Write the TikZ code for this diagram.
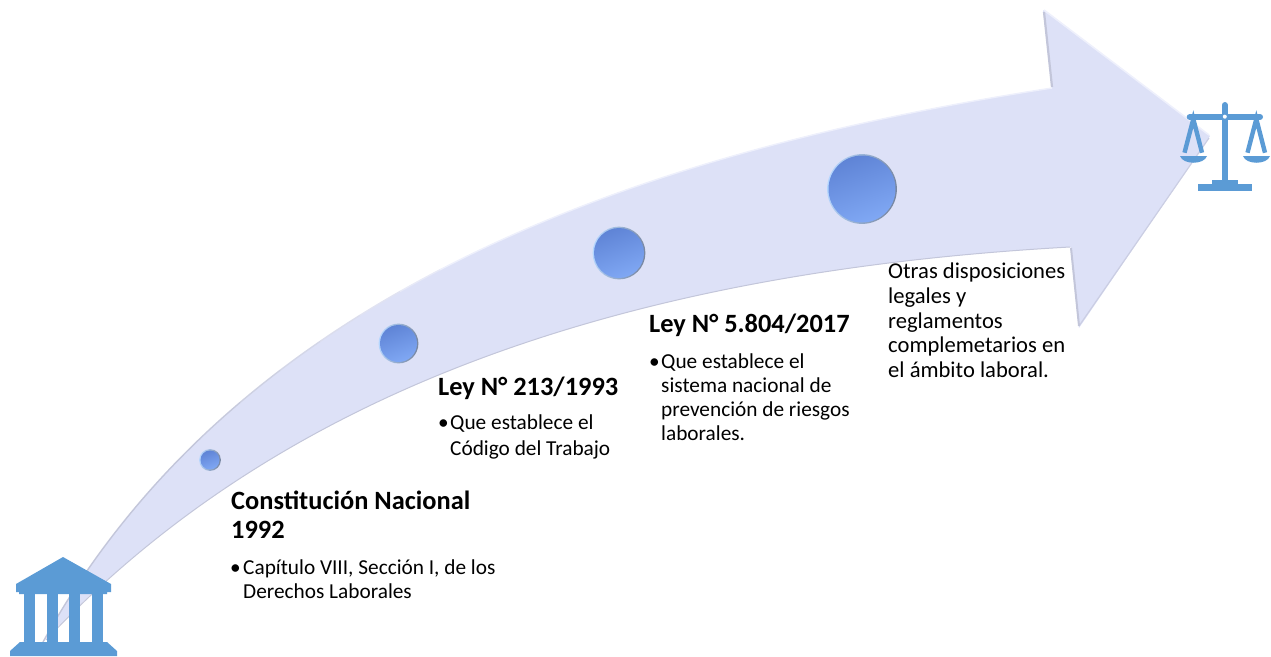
\documentclass[tikz,border=0pt]{standalone}
\usepackage{fontspec}
\setmainfont{Carlito}
\definecolor{bandfill}{HTML}{DDE1F7}
\definecolor{bevelgray}{HTML}{C3C6DA}
\definecolor{bevellight}{HTML}{EEF0FC}
\definecolor{iconblue}{HTML}{5B9BD5}
\definecolor{balldark}{HTML}{5F84D6}
\definecolor{balllight}{HTML}{80A8F4}
\definecolor{rimdark}{HTML}{76859F}
\definecolor{rimlight}{HTML}{B4D6FF}
\newcommand{\ballat}[4]{%
  \shade[left color=rimlight,right color=rimdark,shading angle=80] (#2,#3) circle[radius=#4+1.4];
  \node[ball,minimum size=#4*2pt] (#1) at (#2,#3) {};}
\tikzset{
  x=1pt,y=-1pt,
  heading/.style={anchor=north west,inner sep=0pt,align=left,font=\fontsize{26.4}{29}\selectfont\bfseries},
  body/.style={anchor=north west,inner sep=0pt,align=left,font=\fontsize{21.3}{24}\selectfont},
  bulletmark/.style={anchor=north west,inner sep=0pt,font=\fontsize{21.3}{24}\selectfont},
  ball/.style={circle,inner sep=0pt,left color=balldark,right color=balllight,shading angle=20},
  icon/.style={fill=iconblue,draw=none}
}
\begin{document}
\begin{tikzpicture}
\useasboundingbox (0,0) rectangle (1271,656);
% arrow body
\fill[bandfill] (43,642) .. controls (240,285) and (650,150) .. (1052,88)
  -- (1043,10) -- (1210,136) -- (1079,328) -- (1070.5,247)
  .. controls (620,272) and (280,392) .. (43,642) -- cycle;
% bevels: the upper edge fades from grey to light along its length
\foreach \xa/\xb/\p in {0/200/100,200/240/90,240/280/75,280/320/60,320/360/45,360/400/30,400/440/15,440/1060/0}{
  \begin{scope}
  \clip (\xa,0) rectangle (\xb,656);
  \draw[bevelgray!\p!bevellight,line width=1.4pt] (43,642) .. controls (240,285) and (650,150) .. (1052,88);
  \end{scope}
}
\draw[bevelgray,line width=2.2pt] (1044,12) -- (1052,87);
\draw[bevellight,line width=1.6pt] (1044,10) -- (1209,135);
\draw[bevelgray!70!bandfill,line width=1.2pt] (1209,138) -- (1079,326);
\draw[bevelgray,line width=2pt] (1071,248) -- (1079,326);
\draw[bevelgray,line width=1pt] (1070,247) .. controls (620,272) and (280,392) .. (46,640);
% timeline balls
\ballat{b1}{210}{460}{9.5}
\ballat{b2}{398.5}{343.5}{18.5}
\ballat{b3}{619}{253}{25}
\ballat{b4}{862}{189}{33.5}
% bank icon
\fill[icon] (63,557) -- (111,584) -- (111,592) -- (107,592) -- (107,594) -- (19,594) -- (19,592) -- (16,592) -- (16,584) -- cycle;
\fill[icon] (24,594) rectangle (35,642);
\fill[icon] (46.7,594) rectangle (57.5,642);
\fill[icon] (69,594) rectangle (80,642);
\fill[icon] (91.7,594) rectangle (102.7,642);
\fill[icon] (20,642) -- (107,642) -- (117,651) -- (117,656) -- (10,656) -- (10,651) -- cycle;
% scales icon
\draw[iconblue,line width=6pt,line cap=round] (1224.8,105) -- (1224.8,117);
\draw[iconblue,line width=6pt] (1224.8,117) -- (1224.8,181);
\draw[iconblue,line width=6pt,line cap=round] (1189.7,117) -- (1260,117);
\fill[white] (1224.8,116.7) circle[radius=2];
\fill[icon] (1211.7,180) rectangle (1238.3,185);
\fill[icon] (1198,184.3) rectangle (1252,191);
\draw[iconblue,line width=4.4pt] (1184.5,152.7) -- (1193.3,119) -- (1202,152.7);
\draw[iconblue,line width=4.4pt] (1247.5,152.7) -- (1256.3,119) -- (1265,152.7);
\fill[icon] (1180,156) -- (1207,156) .. controls (1204,165) and (1183,165) .. (1180,156) -- cycle;
\fill[icon] (1243,156) -- (1270,156) .. controls (1267,165) and (1246,165) .. (1243,156) -- cycle;
% texts
\node[heading] (t1) at (231,490.5) {Constitución Nacional\\1992};
\node[bulletmark] (m1) at (230,565) {•};
\node[body] (d1) at (243,560) {Capítulo VIII, Sección I, de los\\Derechos Laborales};
\node[heading] (t2) at (438,377) {Ley N° 213/1993};
\node[bulletmark] (m2) at (438,420) {•};
\node[body,font=\fontsize{21.3}{25.5}\selectfont] (d2) at (450,415) {Que establece el\\Código del Trabajo};
\node[heading] (t3) at (649,314) {Ley N° 5.804/2017};
\node[bulletmark] (m3) at (649,359) {•};
\node[body] (d3) at (661,354) {Que establece el\\sistema nacional de\\prevención de riesgos\\laborales.};
\node[body,font=\fontsize{22.6}{24.7}\selectfont] (d4) at (888,263) {Otras disposiciones\\legales y\\reglamentos\\complemetarios en\\el ámbito laboral.};
\end{tikzpicture}
\end{document}
